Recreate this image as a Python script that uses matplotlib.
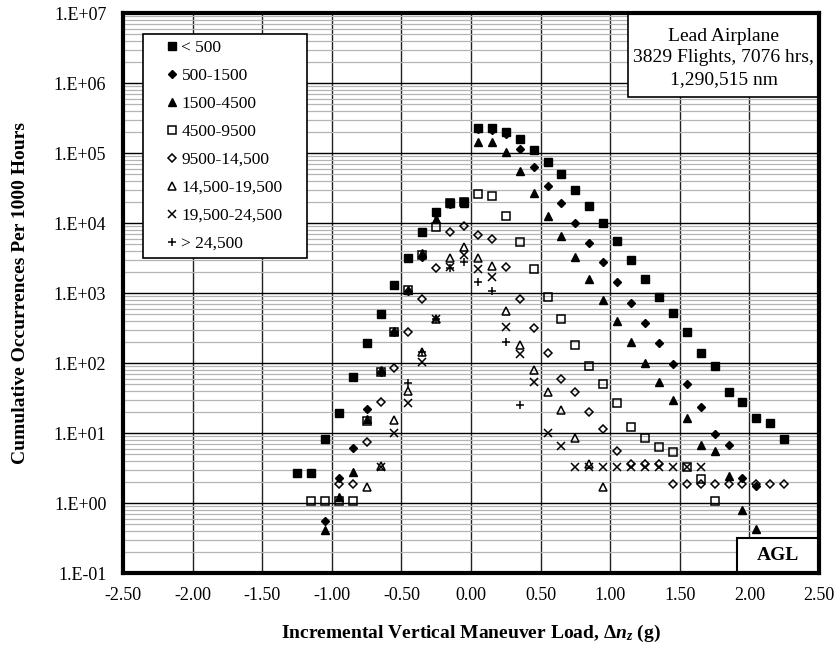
import numpy as np
import matplotlib
matplotlib.use("Agg")
import matplotlib.pyplot as plt
from matplotlib.patches import Rectangle
from matplotlib.ticker import FixedLocator, NullFormatter

plt.rcParams['font.family'] = ['Liberation Serif', 'DejaVu Serif']
plt.rcParams['mathtext.fontset'] = 'custom'
plt.rcParams['mathtext.rm'] = 'Liberation Serif:bold'
plt.rcParams['mathtext.it'] = 'Liberation Serif:italic:bold'
plt.rcParams['mathtext.bf'] = 'Liberation Serif:bold'

# ---------------- data ----------------
labels = ["< 500", "500-1500", "1500-4500", "4500-9500", "9500-14,500",
          "14,500-19,500", "19,500-24,500", "> 24,500"]

x_lt500 = [-1.25, -1.15, -1.05, -0.95, -0.85, -0.75, -0.65, -0.55, -0.45, -0.35, -0.25, -0.15, -0.05,
           0.05, 0.15, 0.25, 0.35, 0.45, 0.55, 0.65, 0.75, 0.85, 0.95, 1.05, 1.15, 1.25, 1.35, 1.45,
           1.55, 1.65, 1.75, 1.85, 1.95, 2.05, 2.15, 2.25]
y_lt500 = [2.71, 2.71, 8.1, 19.1, 62.5, 195, 497, 1290, 3190, 7360, 14500, 19500, 20100,
           225000, 225000, 202000, 160000, 110000, 74000, 49600, 29600, 17500, 10100, 5580, 2960, 1585, 877, 524,
           280, 137, 90.6, 38, 27.5, 16.2, 13.8, 8.2]

x_500 = [-1.05, -0.95, -0.85, -0.75, -0.65, -0.55, -0.45, -0.35, -0.25, -0.15, -0.05,
         0.05, 0.15, 0.25, 0.35, 0.45, 0.55, 0.65, 0.75, 0.85, 0.95, 1.05, 1.15, 1.25, 1.35, 1.45,
         1.55, 1.65, 1.75, 1.85, 1.95, 2.05]
y_500 = [0.56, 2.3, 6.2, 21.8, 75, 280, 1070, 3300, 13500, 18500, 19000,
         220000, 215000, 187000, 113000, 62500, 33800, 19100, 10100, 5240, 2800, 1450, 713, 377, 191, 96.8,
         49.6, 23.8, 9.7, 6.7, 2.25, 1.75]

x_1500 = [-1.05, -0.95, -0.85, -0.75, -0.65, -0.55, -0.45, -0.35, -0.25, -0.15, -0.05,
          0.05, 0.15, 0.25, 0.35, 0.45, 0.55, 0.65, 0.75, 0.85, 0.95, 1.05, 1.15, 1.25, 1.35, 1.45,
          1.55, 1.65, 1.75, 1.85, 1.95, 2.05]
y_1500 = [0.41, 1.2, 2.75, 15.8, 80, 290, 1100, 3700, 11300, 19000, 19500,
          142000, 142000, 102000, 55300, 26500, 12600, 6600, 3240, 1580, 800, 395, 200, 100, 53, 30,
          16.2, 6.7, 5.6, 2.43, 0.79, 0.42]

x_4500 = [-1.15, -1.05, -0.95, -0.85, -0.75, -0.65, -0.55, -0.45, -0.35, -0.25, -0.15, -0.05,
          0.05, 0.15, 0.25, 0.35, 0.45, 0.55, 0.65, 0.75, 0.85, 0.95, 1.05, 1.15, 1.25, 1.35, 1.45,
          1.55, 1.65, 1.75]
y_4500 = [1.07, 1.07, 1.07, 1.07, 15, 75, 280, 1100, 3500, 8850, 19300, 19800,
          25900, 24300, 12700, 5400, 2180, 887, 421, 181, 92, 50, 26.5, 12, 8.6, 6.4, 5.3,
          3.3, 2.2, 1.07]

x_9500 = [-0.95, -0.85, -0.75, -0.65, -0.55, -0.45, -0.35, -0.25, -0.15, -0.05,
          0.05, 0.15, 0.25, 0.35, 0.45, 0.55, 0.65, 0.75, 0.85, 0.95, 1.05, 1.15, 1.25, 1.35, 1.45,
          1.55, 1.65, 1.75, 1.85, 1.95, 2.05, 2.15, 2.25]
y_9500 = [1.85, 1.85, 7.4, 28, 85.7, 280, 820, 2300, 7500, 9060,
          6740, 6000, 2330, 820, 313, 140, 60, 38, 20, 11.5, 5.6, 3.6, 3.6, 3.6, 1.85,
          1.85, 1.85, 1.85, 1.85, 1.85, 1.85, 1.85, 1.85]

x_14500 = [-0.75, -0.65, -0.55, -0.45, -0.35, -0.25, -0.15, -0.05,
           0.05, 0.15, 0.25, 0.35, 0.45, 0.55, 0.65, 0.75, 0.85, 0.95]
y_14500 = [1.68, 3.4, 15.3, 40, 145, 430, 3130, 4590,
           3130, 2460, 553, 179, 79, 39, 21, 8.5, 3.6, 1.7]

x_19500 = [-0.65, -0.55, -0.45, -0.35, -0.25, -0.15, -0.05,
           0.05, 0.15, 0.25, 0.35, 0.45, 0.55, 0.65, 0.75, 0.85, 0.95, 1.05, 1.15, 1.25, 1.35, 1.45,
           1.55, 1.65]
y_19500 = [3.3, 10.1, 27, 102, 430, 2330, 3490,
           2200, 1680, 330, 134, 53, 10, 6.5, 3.3, 3.3, 3.3, 3.3, 3.3, 3.3, 3.3, 3.3,
           3.3, 3.3]

x_24500 = [-0.45, -0.35, -0.25, -0.15, -0.05, 0.05, 0.15, 0.25, 0.35]
y_24500 = [51, 145, 430, 2300, 2800, 1450, 1080, 200, 25]

x_ticks = [-2.5, -2.0, -1.5, -1.0, -0.5, 0.0, 0.5, 1.0, 1.5, 2.0, 2.5]
y_exps = list(range(-1, 8))

# ---------------- figure ----------------
fig = plt.figure(figsize=(8.4, 6.54), dpi=100)
ax = fig.add_axes([123 / 840, 1 - 573 / 654, 696 / 840, 560 / 654])
ax.set_yscale('log')
ax.set_xlim(-2.5, 2.5)
ax.set_ylim(0.1, 1e7)

styles = [
    dict(marker='s', ms=6.4, mfc='black', mec='black'),
    dict(marker='D', ms=4.4, mfc='black', mec='black'),
    dict(marker='^', ms=6.4, mfc='black', mec='black'),
    dict(marker='s', ms=6.0, mfc='none', mec='black', mew=1.1),
    dict(marker='D', ms=4.2, mfc='none', mec='black', mew=1.1),
    dict(marker='^', ms=6.2, mfc='none', mec='black', mew=1.1),
    dict(marker='x', ms=5.5, mfc='black', mec='black', mew=1.1),
    dict(marker='+', ms=6.0, mfc='black', mec='black', mew=1.1),
]
series = [(x_lt500, y_lt500), (x_500, y_500), (x_1500, y_1500), (x_4500, y_4500),
          (x_9500, y_9500), (x_14500, y_14500), (x_19500, y_19500), (x_24500, y_24500)]

handles = []
for (xs, ys), st, lab in zip(series, styles, labels):
    h, = ax.plot(xs, ys, linestyle='none', label=lab, zorder=5, **st)
    handles.append(h)

# ticks & grid
ax.set_xticks(x_ticks)
ax.set_xticklabels([f"{v:.2f}" for v in x_ticks])
ax.set_yticks([10.0 ** k for k in y_exps])
ax.set_yticklabels([f"1.E{k:+03d}" for k in y_exps])
minors = [m * 10.0 ** k for k in range(-1, 7) for m in range(2, 10)]
ax.yaxis.set_minor_locator(FixedLocator(minors))
ax.yaxis.set_minor_formatter(NullFormatter())
ax.tick_params(which='both', length=0)
ax.tick_params(axis='y', labelsize=13, pad=12)
ax.tick_params(axis='x', labelsize=13, pad=10)

ax.grid(which='minor', axis='y', color='#b4b4b4', lw=0.9, zorder=0)
ax.grid(which='major', axis='y', color='black', lw=1.0, zorder=1)
ax.grid(which='major', axis='x', color='#222222', lw=1.0, zorder=1)
ax.set_axisbelow(True)
for s in ax.spines.values():
    s.set_linewidth(3)
    s.set_zorder(10)

ax.set_ylabel("Cumulative Occurrences Per 1000 Hours", fontsize=14, fontweight='bold', labelpad=18)
ax.set_xlabel(r"Incremental Vertical Maneuver Load, $\Delta n_z$ (g)", fontsize=14,
              fontweight='bold', labelpad=14)

# legend box
ax.add_patch(Rectangle((20 / 696, 1 - 245 / 560), 164 / 696, 224 / 560, transform=ax.transAxes,
                       facecolor='white', edgecolor='black', lw=1.2, zorder=8))
leg = ax.legend(handles=handles, loc='upper left', bbox_to_anchor=(42 / 696, 1 - 27 / 560),
                frameon=False, fontsize=12.5, handlelength=0.8, handletextpad=0.15,
                labelspacing=0.68, borderpad=0, borderaxespad=0, numpoints=1)
leg.set_zorder(9)

# annotation box
ax.add_patch(Rectangle((505 / 696, 1 - 84 / 560), 191 / 696, 84 / 560, transform=ax.transAxes,
                       facecolor='white', edgecolor='black', lw=1.2, zorder=8))
ax.text(600.5 / 696, 1 - 45 / 560, "Lead Airplane\n3829 Flights, 7076 hrs,\n1,290,515 nm",
        transform=ax.transAxes, ha='center', va='center', fontsize=14, linespacing=1.32, zorder=9)

# AGL box
ax.add_patch(Rectangle((614 / 696, 0), 82 / 696, 35 / 560, transform=ax.transAxes,
                       facecolor='white', edgecolor='black', lw=1.5, zorder=8))
ax.text(655 / 696, 17.5 / 560, "AGL", transform=ax.transAxes, ha='center', va='center',
        fontsize=14, fontweight='bold', zorder=9)

fig.savefig("out.png", dpi=100)
